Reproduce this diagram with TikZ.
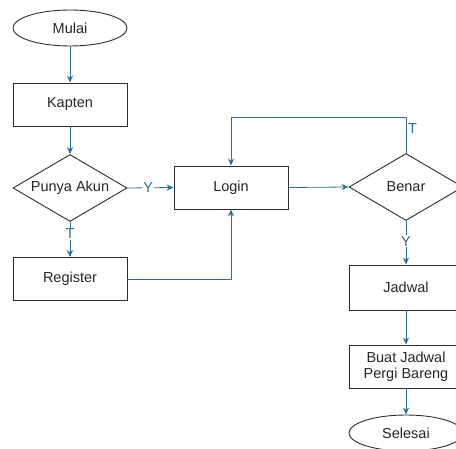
\documentclass[tikz,border=0pt]{standalone}
\usepackage{fontspec}
\setmainfont{Liberation Sans}
\usetikzlibrary{shapes.geometric,arrows.meta}
\definecolor{flowline}{RGB}{48,108,148}
\definecolor{shapeline}{RGB}{45,45,45}
\tikzset{
  base/.style={draw=shapeline, line width=0.9pt, fill=white, inner sep=0pt, align=center, font=\fontsize{14.5}{16}\selectfont, text=black!85},
  terminal/.style={base, ellipse, minimum width=114pt, minimum height=36pt},
  process/.style={base, rectangle, minimum width=114pt, minimum height=43pt},
  decision/.style={base, diamond, aspect=1.7, minimum width=114pt, minimum height=67pt},
  flow/.style={draw=flowline, line width=0.8pt, -{Stealth[length=7pt,width=6pt]}},
  flowlabel/.style={fill=white, inner sep=1pt, text=flowline, font=\fontsize{14.5}{16}\selectfont}
}
\begin{document}
\begin{tikzpicture}[x=1pt,y=-1pt]
  \useasboundingbox (0,0) rectangle (456,449);
  \clip (0,0) rectangle (456,449);
  % left column
  \node[terminal] (mulai) at (70,28) {Mulai};
  \node[process] (kapten) at (70,104.5) {Kapten};
  \node[decision] (akun) at (70,188) {Punya Akun};
  \node[process] (register) at (70,279) {Register};
  % middle
  \node[process] (login) at (231,187.5) {Login};
  % right column
  \node[decision] (benar) at (406,187) {Benar};
  \node[process, minimum height=45pt] (jadwal) at (406,287.5) {Jadwal};
  \node[process] (buat) at (406,366.5) {Buat Jadwal\\Pergi Bareng};
  \node[terminal] (selesai) at (406,433) {Selesai};
  % loop back corners
  \coordinate (loopR) at (406,117);
  \coordinate (loopL) at (231,117);
  \coordinate (regTurn) at (231,279);
  % connectors
  \draw[flow] (mulai) -- (kapten);
  \draw[flow] (kapten) -- (akun);
  \draw[flow] (akun.east) -- node[flowlabel, pos=0.45] {Y} (login.west);
  \draw[flow] (akun.south) -- node[flowlabel, pos=0.33] {T} (register.north);
  \draw[flow] (register.east) -- (regTurn) -- (login.south);
  \draw[flow] (login.east) -- (benar.west);
  \draw[flow] (benar.north) -- (loopR) -- (loopL) -- (login.north);
  \node[text=flowline, font=\fontsize{14.5}{16}\selectfont, anchor=west, inner sep=1pt] (tlabel) at (407,129) {T};
  \draw[flow] (benar.south) -- node[flowlabel, pos=0.47] {Y} (jadwal.north);
  \draw[flow] (jadwal) -- (buat);
  \draw[flow] (buat) -- (selesai);
\end{tikzpicture}
\end{document}
